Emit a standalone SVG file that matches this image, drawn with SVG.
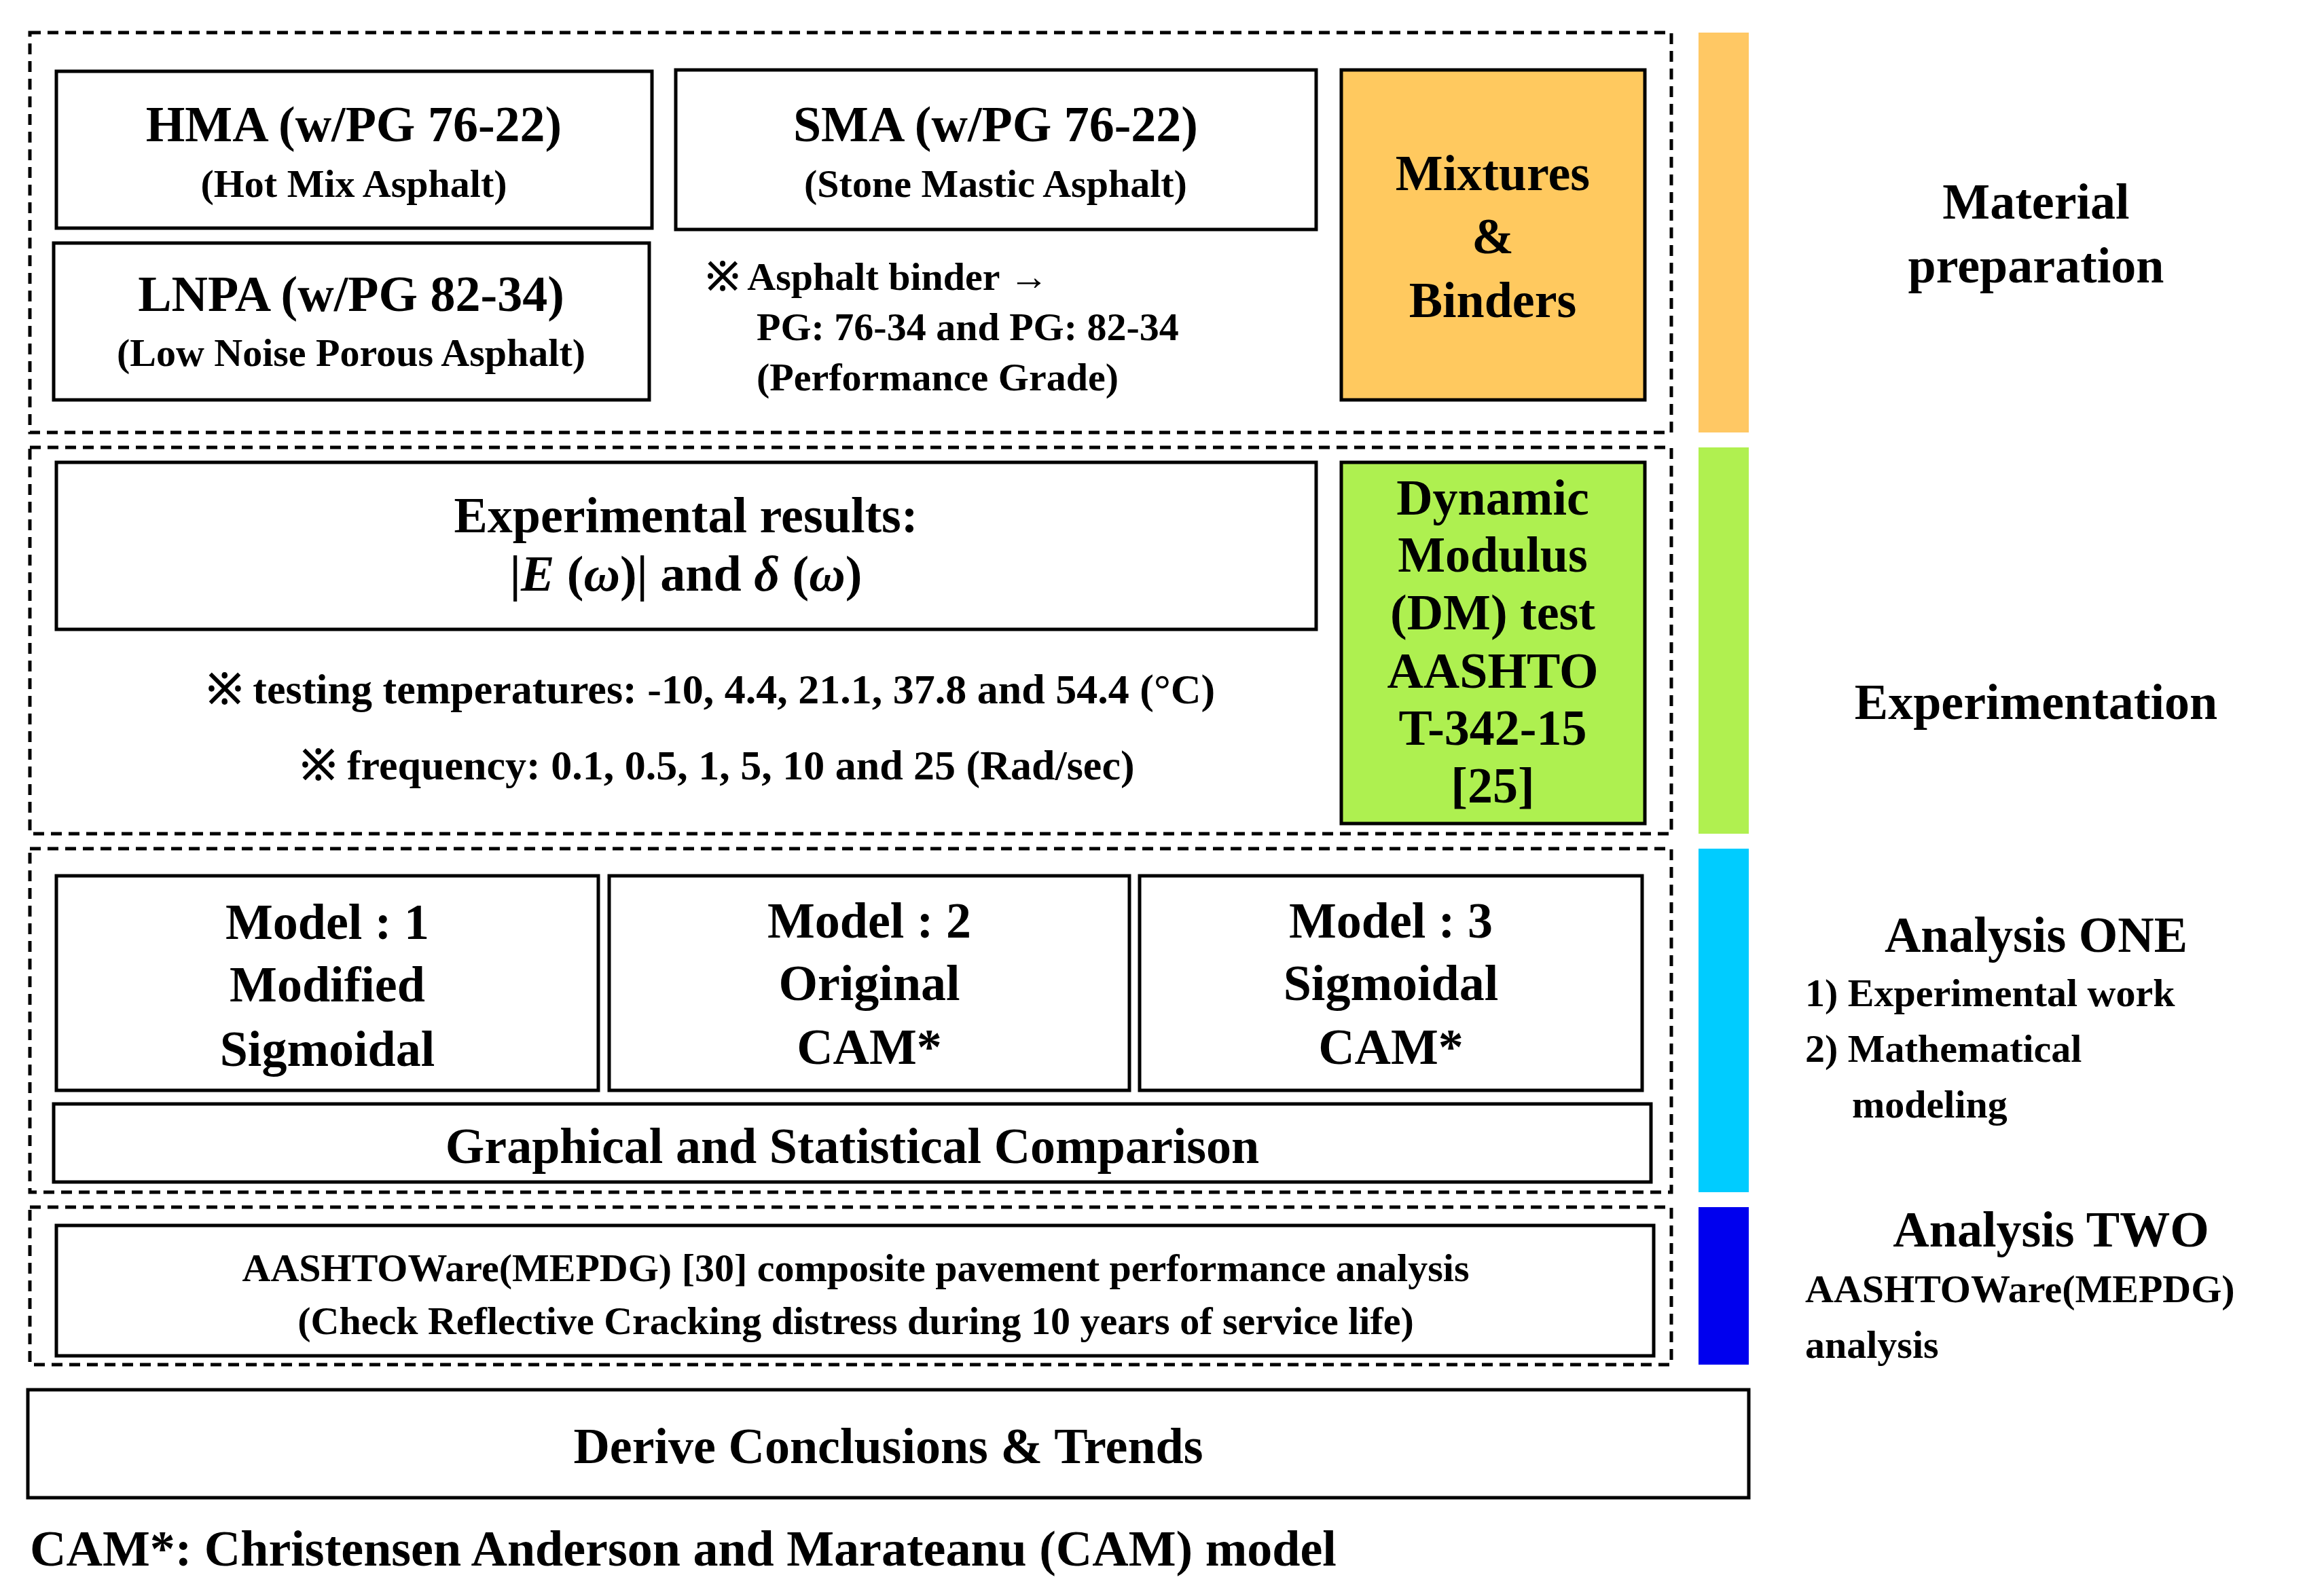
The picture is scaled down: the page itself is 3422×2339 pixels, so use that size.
<svg xmlns="http://www.w3.org/2000/svg" width="3422" height="2339" viewBox="0 0 3422 2339">
<style>
text{font-family:"Liberation Serif","Times New Roman",serif;font-weight:bold;fill:#000;dominant-baseline:central}
.c{text-anchor:middle}
.dash{fill:none;stroke:#000;stroke-width:5;stroke-dasharray:16 10}
.box{fill:#fff;stroke:#000;stroke-width:5}
.t{font-size:74px}.s{font-size:58px}.m{font-size:62px}
</style>
<rect width="3422" height="2339" fill="#fff"/>
<g id="stages">
<rect class="dash" x="44" y="48" width="2417" height="589"/>
<rect class="dash" x="44" y="659" width="2417" height="569"/>
<rect class="dash" x="44" y="1250" width="2417" height="506"/>
<rect class="dash" x="44" y="1778" width="2417" height="232"/>
<rect x="2501" y="48" width="74" height="589" fill="#FFC864"/>
<rect x="2501" y="659" width="74" height="569" fill="#B0F050"/>
<rect x="2501" y="1250" width="74" height="506" fill="#00CCFF"/>
<rect x="2501" y="1778" width="74" height="232" fill="#0000EE"/>
</g>
<g id="hma"><rect class="box" x="83" y="105" width="877" height="231"/>
<text class="c t" x="521" y="183">HMA (w/PG 76-22)</text><text class="c s" x="521" y="270">(Hot Mix Asphalt)</text></g>
<g id="sma"><rect class="box" x="995" y="103" width="943" height="235"/>
<text class="c t" x="1466" y="183">SMA (w/PG 76-22)</text><text class="c s" x="1466" y="270">(Stone Mastic Asphalt)</text></g>
<g id="lnpa"><rect class="box" x="79" y="358" width="877" height="231"/>
<text class="c t" x="517" y="433">LNPA (w/PG 82-34)</text><text class="c s" x="517" y="519">(Low Noise Porous Asphalt)</text></g>
<g id="binder-note">
<text class="s" x="1040" y="407">※ Asphalt binder →</text>
<text class="s" x="1114" y="481">PG: 76-34 and PG: 82-34</text>
<text class="s" x="1114" y="555">(Performance Grade)</text></g>
<g id="mixtures"><rect x="1975" y="103" width="447" height="486" fill="#FFC95F" stroke="#000" stroke-width="5"/>
<text class="c t" x="2198" y="255">Mixtures</text><text class="c t" x="2198" y="348">&amp;</text><text class="c t" x="2198" y="442">Binders</text></g>
<g id="results"><rect class="box" x="83" y="681" width="1855" height="246"/>
<text class="c t" x="1010" y="759">Experimental results:</text>
<text class="c t" x="1010" y="845">|<tspan font-style="italic">E</tspan> (<tspan font-style="italic">ω</tspan>)| and <tspan font-style="italic">δ</tspan> (<tspan font-style="italic">ω</tspan>)</text></g>
<g id="test-note">
<text class="c m" x="1047" y="1015">※ testing temperatures: -10, 4.4, 21.1, 37.8 and 54.4 (°C)</text>
<text class="c m" x="1057" y="1127">※ frequency: 0.1, 0.5, 1, 5, 10 and 25 (Rad/sec)</text></g>
<g id="dm"><rect x="1975" y="681" width="447" height="532" fill="#AEF050" stroke="#000" stroke-width="5"/>
<text class="c t" x="2198" y="733">Dynamic</text><text class="c t" x="2198" y="817">Modulus</text><text class="c t" x="2198" y="902">(DM) test</text>
<text class="c t" x="2198" y="988">AASHTO</text><text class="c t" x="2198" y="1072">T-342-15</text><text class="c t" x="2198" y="1157">[25]</text></g>
<g id="model1"><rect class="box" x="83" y="1290" width="798" height="316"/>
<text class="c t" x="482" y="1358">Model : 1</text><text class="c t" x="482" y="1450">Modified</text><text class="c t" x="482" y="1545">Sigmoidal</text></g>
<g id="model2"><rect class="box" x="897" y="1290" width="766" height="316"/>
<text class="c t" x="1280" y="1356">Model : 2</text><text class="c t" x="1280" y="1448">Original</text><text class="c t" x="1280" y="1542">CAM*</text></g>
<g id="model3"><rect class="box" x="1678" y="1290" width="740" height="316"/>
<text class="c t" x="2048" y="1356">Model : 3</text><text class="c t" x="2048" y="1448">Sigmoidal</text><text class="c t" x="2048" y="1542">CAM*</text></g>
<g id="comparison"><rect class="box" x="79" y="1626" width="2352" height="115"/>
<text class="c t" x="1255" y="1688">Graphical and Statistical Comparison</text></g>
<g id="mepdg"><rect class="box" x="83" y="1805" width="2352" height="192"/>
<text class="c s" x="1260" y="1867">AASHTOWare(MEPDG) [30] composite pavement performance analysis</text>
<text class="c s" x="1260" y="1945">(Check Reflective Cracking distress during 10 years of service life)</text></g>
<g id="derive"><rect class="box" x="41" y="2047" width="2534" height="159"/>
<text class="c t" x="1308" y="2130">Derive Conclusions &amp; Trends</text></g>
<g id="labels">
<text class="c t" x="2998" y="297">Material</text><text class="c t" x="2998" y="391">preparation</text>
<text class="c t" x="2998" y="1034">Experimentation</text>
<text class="c t" x="2998" y="1377">Analysis ONE</text>
<text class="s" x="2658" y="1462">1) Experimental work</text>
<text class="s" x="2658" y="1544">2) Mathematical</text>
<text class="s" x="2727" y="1626">modeling</text>
<text class="c t" x="3020" y="1811">Analysis TWO</text>
<text class="s" x="2658" y="1898">AASHTOWare(MEPDG)</text>
<text class="s" x="2658" y="1980">analysis</text>
<text class="t" x="44" y="2281">CAM*: Christensen Anderson and Marateanu (CAM) model</text>
</g>
<g id="connectors"/>
</svg>
